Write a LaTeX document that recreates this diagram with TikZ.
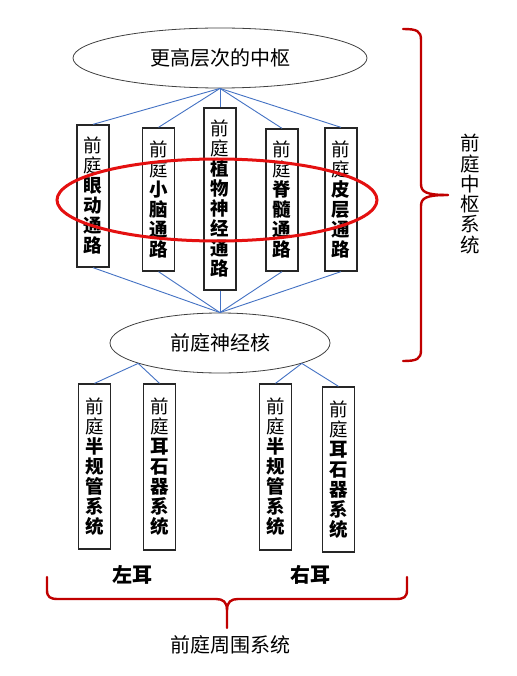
\documentclass[tikz,border=0pt]{standalone}
\usepackage{fontspec}
\setmainfont{Noto Sans CJK SC}
\usetikzlibrary{shapes.geometric}
\definecolor{lineblue}{RGB}{68,114,196}
\definecolor{bracered}{RGB}{192,0,0}
\definecolor{ringred}{RGB}{228,16,16}
\newcommand{\B}[1]{\textbf{#1}}
\begin{document}
\begin{tikzpicture}[x=1pt,y=-1pt,
  oval/.style={ellipse,draw=black!75,line width=0.8pt,inner sep=0pt,font=\fontsize{20}{22}\selectfont},
  vbox/.style={draw=black!85,line width=1.3pt,minimum width=32pt,inner sep=0pt,align=center,font=\fontsize{18.5}{20}\selectfont},
  link/.style={draw=lineblue,line width=0.9pt},
  brace/.style={draw=bracered,line width=2.4pt,line cap=round},
  lbl/.style={font=\fontsize{20}{22}\selectfont,inner sep=0pt}]
\useasboundingbox (0,0) rectangle (516,676);
\fill[white] (0,0) rectangle (516,676);

% top level
\node[oval,minimum width=294pt,minimum height=60pt] (top) at (220,58) {更高层次的中枢};
\node[vbox,minimum height=142pt] (b1) at (93,196) {前\\庭\\\B{眼}\\\B{动}\\\B{通}\\\B{路}};
\node[vbox,minimum height=143pt] (b2) at (158.5,199.5) {前\\庭\\\B{小}\\\B{脑}\\\B{通}\\\B{路}};
\node[vbox,minimum height=182pt] (b3) at (220,199) {前\\庭\\\B{植}\\\B{物}\\\B{神}\\\B{经}\\\B{通}\\\B{路}};
\node[vbox,minimum height=142pt] (b4) at (282,200) {前\\庭\\\B{脊}\\\B{髓}\\\B{通}\\\B{路}};
\node[vbox,minimum height=143pt] (b5) at (341,199.5) {前\\庭\\\B{皮}\\\B{层}\\\B{通}\\\B{路}};
\node[oval,minimum width=220pt,minimum height=60pt] (nuc) at (220,343) {前庭神经核};

\foreach \b in {b1,b2,b3,b4,b5}{
  \draw[link] (top.south) -- (\b.north);
  \draw[link] (\b.south) -- (nuc.north);
}

% ring
\node[ellipse,draw=ringred,line width=3pt,minimum width=320pt,minimum height=82pt,inner sep=0pt] (ring) at (217,200) {};

% peripheral
\node[vbox,minimum height=165pt] (c1) at (94.5,466.5) {前\\庭\\\B{半}\\\B{规}\\\B{管}\\\B{系}\\\B{统}};
\node[vbox,minimum height=166pt] (c2) at (159.5,467) {前\\庭\\\B{耳}\\\B{石}\\\B{器}\\\B{系}\\\B{统}};
\node[vbox,minimum height=166pt] (c3) at (275.5,467) {前\\庭\\\B{半}\\\B{规}\\\B{管}\\\B{系}\\\B{统}};
\node[vbox,minimum height=165pt] (c4) at (338.5,469.5) {前\\庭\\\B{耳}\\\B{石}\\\B{器}\\\B{系}\\\B{统}};

\draw[link] (nuc.194) -- (c1.north);
\draw[link] (nuc.194) -- (c2.north);
\draw[link] (nuc.346) -- (c3.north);
\draw[link] (nuc.346) -- (c4.north);

\node[lbl,font=\fontsize{20}{22}\selectfont\bfseries] (left) at (132,575) {左耳};
\node[lbl,font=\fontsize{20}{22}\selectfont\bfseries] (right) at (310,575) {右耳};

% right brace
\draw[brace] (403,29) .. controls (417,29) and (421,31) .. (421,40) -- (421,184)
  .. controls (421,192) and (426,195) .. (448,195);
\draw[brace] (448,195) .. controls (426,195) and (421,198) .. (421,206) -- (421,350)
  .. controls (421,359) and (417,361) .. (403,361);
\node[lbl,align=center,font=\fontsize{19.5}{20.3}\selectfont] (central) at (470,194) {前\\庭\\中\\枢\\系\\统};

% bottom brace
\draw[brace] (47,577) -- (47,590) .. controls (47,597) and (50,599) .. (58,599) -- (216,599)
  .. controls (223,599) and (227,602) .. (227,610) -- (227,628);
\draw[brace] (407,577) -- (407,590) .. controls (407,597) and (404,599) .. (396,599) -- (238,599)
  .. controls (231,599) and (227,602) .. (227,610);
\node[lbl] (periph) at (230,645) {前庭周围系统};
\end{tikzpicture}
\end{document}
